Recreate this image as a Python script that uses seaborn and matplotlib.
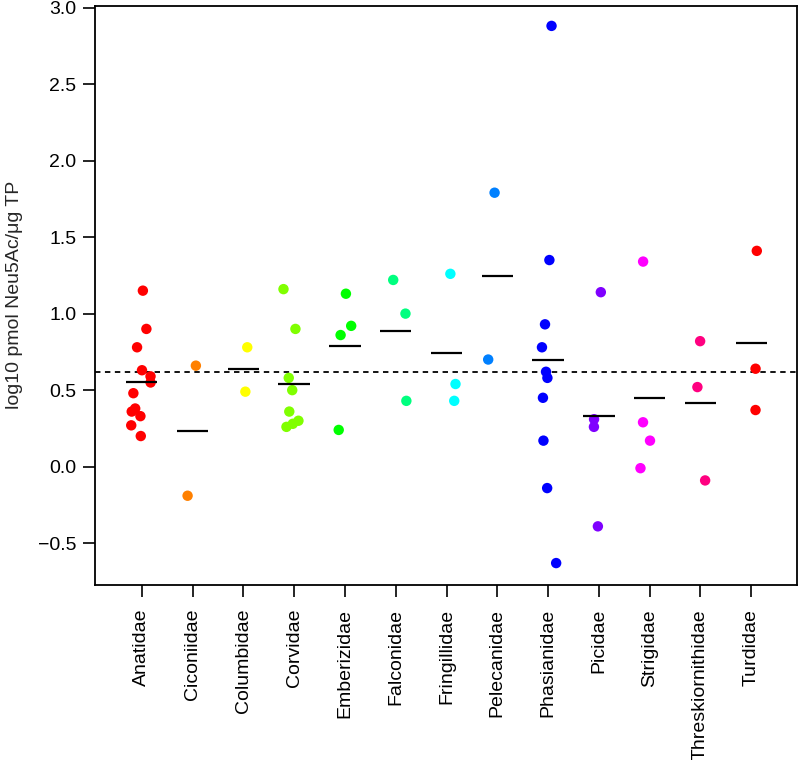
import numpy as np
import pandas as pd
import seaborn as sns
import matplotlib
matplotlib.use("Agg")
import matplotlib.pyplot as plt

families = ["Anatidae", "Ciconiidae", "Columbidae", "Corvidae", "Emberizidae",
            "Falconidae", "Fringillidae", "Pelecanidae", "Phasianidae", "Picidae",
            "Strigidae", "Threskiornithidae", "Turdidae"]

anatidae = [1.15, 0.90, 0.78, 0.63, 0.59, 0.55, 0.48, 0.38, 0.36, 0.33, 0.27, 0.20]
ciconiidae = [0.66, -0.19]
columbidae = [0.78, 0.49]
corvidae = [1.16, 0.90, 0.58, 0.50, 0.36, 0.30, 0.28, 0.26]
emberizidae = [1.13, 0.92, 0.86, 0.24]
falconidae = [1.22, 1.00, 0.43]
fringillidae = [1.26, 0.54, 0.43]
pelecanidae = [1.79, 0.70]
phasianidae = [2.88, 1.35, 0.93, 0.78, 0.62, 0.58, 0.45, 0.17, -0.14, -0.63]
picidae = [1.14, 0.31, 0.26, -0.39]
strigidae = [1.34, 0.29, 0.17, -0.01]
threskiornithidae = [0.82, 0.52, -0.09]
turdidae = [1.41, 0.64, 0.37]

values = [anatidae, ciconiidae, columbidae, corvidae, emberizidae, falconidae,
          fringillidae, pelecanidae, phasianidae, picidae, strigidae,
          threskiornithidae, turdidae]

y_ticks = [-0.5, 0.0, 0.5, 1.0, 1.5, 2.0, 2.5, 3.0]
y_label = "log10 pmol Neu5Ac/\u03bcg TP"

df = pd.DataFrame({
    "family": [f for f, v in zip(families, values) for _ in v],
    "value": [x for v in values for x in v],
})

sns.set_style("ticks")
plt.rcParams["font.family"] = ["Liberation Sans", "DejaVu Sans"]

# pure hues every 30 degrees, last group wraps back to red
pal12 = sns.hls_palette(12, h=0, l=0.5, s=1.0)
palette = dict(zip(families, list(pal12) + [pal12[0]]))

fig = plt.figure(figsize=(8, 7.6), dpi=100)
ax = fig.add_axes([94.5 / 800, 1 - 584.5 / 760, (797 - 94.5) / 800, (584.5 - 6) / 760])

np.random.seed(3)
sns.stripplot(data=df, x="family", y="value", hue="family", palette=palette,
              order=families, jitter=0.22, size=7.5, linewidth=0,
              legend=False, ax=ax, zorder=3)

means = df.groupby("family")["value"].mean().reindex(families)
for i, m in enumerate(means.values):
    ax.hlines(m, i - 0.31, i + 0.31, color="black", lw=1.6, zorder=4)

ax.axhline(df["value"].mean(), color="black", ls=(0, (3, 2.5)), lw=1.3, zorder=2)

ax.set_xlim(-0.93, 12.9)
ax.set_ylim(-0.77, 3.01)
ax.set_yticks(y_ticks)
ax.set_yticklabels([f"{t:.1f}".replace("-", "\u2212") for t in y_ticks])
ax.set_xlabel("")
ax.set_ylabel(y_label, fontsize=14, labelpad=11)
ax.tick_params(axis="x", labelrotation=90, labelsize=14, length=8.6, width=1.2,
               pad=9, direction="out", colors="black")
ax.tick_params(axis="y", labelsize=14, length=8.6, width=1.2, pad=4.5,
               direction="out", colors="black")
for s in ax.spines.values():
    s.set_visible(True)
    s.set_linewidth(1.3)
    s.set_color("black")

fig.savefig("out.png", dpi=100)
